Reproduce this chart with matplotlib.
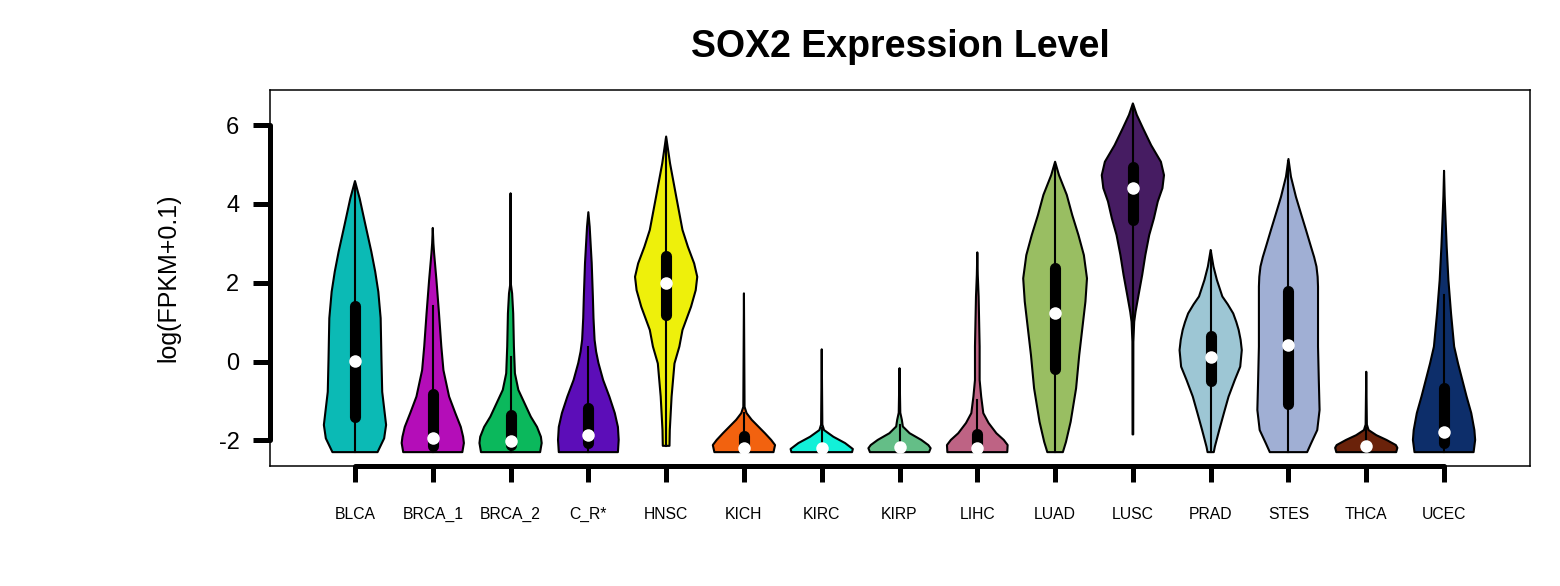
import numpy as np
import matplotlib
matplotlib.use("Agg")
import matplotlib.pyplot as plt

plt.rcParams['font.family'] = ['Liberation Sans', 'DejaVu Sans']
plt.rcParams['axes.unicode_minus'] = False

groups = ['BLCA', 'BRCA_1', 'BRCA_2', 'C_R*', 'HNSC', 'KICH', 'KIRC', 'KIRP',
          'LIHC', 'LUAD', 'LUSC', 'PRAD', 'STES', 'THCA', 'UCEC']
colors = ['#0BBAB5', '#B40DB8', '#0BB85C', '#5C0DB8', '#EEF00B', '#F2620F',
          '#12F0D8', '#64BE87', '#BE6384', '#99BE62', '#461C62', '#9DC6D4',
          '#A0AFD4', '#6A220A', '#0D2E6A']

# box / whisker summary
q1 = [-1.54, -2.26, -2.25, -2.20, 1.05, -2.25, -2.28, -2.28, -2.27, -0.32, 3.46, -0.61, -1.21, -2.28, -2.20]
q3 = [1.53, -0.70, -1.23, -1.06, 2.81, -1.76, -2.05, -2.05, -1.72, 2.49, 5.05, 0.78, 1.92, -2.05, -0.55]
medians = [0.01, -1.95, -2.02, -1.87, 1.99, -2.20, -2.19, -2.18, -2.19, 1.24, 4.40, 0.11, 0.42, -2.14, -1.78]
whisk_lo = [-2.30, -2.30, -2.30, -2.30, -2.14, -2.30, -2.30, -2.30, -2.30, -2.30, -1.85, -2.30, -2.30, -2.30, -2.30]
whisk_hi = [4.50, 1.42, 0.12, 0.38, 5.65, -1.30, -1.70, -1.60, -0.98, 5.00, 6.50, 2.80, 5.10, -1.70, 1.69]

# violin outlines: value levels and half widths
blca_y = [-2.30, -1.95, -1.61, -1.19, -0.77, 0.08, 1.10, 1.77, 2.28, 2.79, 3.46, 4.14, 4.58]
blca_w = [0.29, 0.375, 0.40, 0.375, 0.35, 0.34, 0.33, 0.30, 0.26, 0.21, 0.135, 0.06, 0.0]
brca1_y = [-2.30, -2.07, -1.91, -1.66, -1.31, -0.89, -0.22, 0.38, 1.22, 2.07, 2.75, 3.00, 3.39]
brca1_w = [0.38, 0.40, 0.39, 0.36, 0.29, 0.21, 0.137, 0.11, 0.08, 0.047, 0.017, 0.008, 0.0]
brca2_y = [-2.30, -2.07, -1.91, -1.66, -1.40, -1.06, -0.72, -0.30, 0.38, 1.22, 1.73, 1.95, 4.27]
brca2_w = [0.38, 0.40, 0.39, 0.34, 0.26, 0.18, 0.10, 0.056, 0.043, 0.034, 0.02, 0.005, 0.0]
cr_y = [-2.30, -1.99, -1.66, -1.31, -0.89, -0.47, -0.04, 0.25, 0.55, 1.10, 1.65, 2.50, 3.42, 3.79]
cr_w = [0.38, 0.39, 0.38, 0.34, 0.27, 0.19, 0.13, 0.10, 0.08, 0.066, 0.058, 0.043, 0.017, 0.0]
hnsc_y = [-2.14, -1.74, -0.89, -0.05, 0.38, 0.80, 1.39, 1.81, 2.15, 2.49, 2.91, 3.34, 4.18, 5.03, 5.71]
hnsc_w = [0.043, 0.047, 0.07, 0.107, 0.17, 0.21, 0.32, 0.38, 0.40, 0.36, 0.28, 0.21, 0.13, 0.05, 0.0]
kich_y = [-2.30, -2.12, -1.99, -1.82, -1.66, -1.48, -1.31, -1.15, 1.73]
kich_w = [0.38, 0.40, 0.35, 0.27, 0.19, 0.10, 0.034, 0.008, 0.0]
kirc_y = [-2.30, -2.22, -2.16, -2.07, -1.91, -1.74, -1.60, 0.31]
kirc_w = [0.39, 0.40, 0.36, 0.30, 0.15, 0.03, 0.008, 0.0]
kirp_y = [-2.30, -2.20, -2.12, -1.99, -1.82, -1.65, -1.48, -1.30, -0.17]
kirp_w = [0.38, 0.40, 0.37, 0.28, 0.13, 0.043, 0.03, 0.01, 0.0]
lihc_y = [-2.30, -2.12, -1.99, -1.82, -1.56, -1.31, -0.89, -0.47, 0.38, 1.65, 2.20, 2.77]
lihc_w = [0.385, 0.39, 0.34, 0.245, 0.145, 0.077, 0.05, 0.03, 0.03, 0.017, 0.006, 0.0]
luad_y = [-2.30, -2.04, -1.53, -0.68, 0.16, 0.84, 1.52, 2.11, 2.70, 3.21, 3.72, 4.23, 4.73, 5.07]
luad_w = [0.10, 0.14, 0.20, 0.27, 0.31, 0.35, 0.39, 0.41, 0.37, 0.30, 0.22, 0.15, 0.05, 0.0]
lusc_y = [-1.85, 0.50, 1.01, 1.26, 1.69, 2.20, 2.70, 3.21, 3.63, 4.06, 4.40, 4.73, 5.07, 5.49, 5.92, 6.26, 6.55]
lusc_w = [0.004, 0.006, 0.017, 0.034, 0.073, 0.12, 0.16, 0.21, 0.27, 0.32, 0.38, 0.40, 0.36, 0.235, 0.13, 0.05, 0.0]
prad_y = [-2.30, -2.16, -1.74, -1.31, -0.89, -0.47, -0.13, 0.29, 0.55, 0.80, 1.00, 1.22, 1.45, 1.65, 2.07, 2.41, 2.83]
prad_w = [0.04, 0.054, 0.11, 0.17, 0.23, 0.31, 0.38, 0.40, 0.385, 0.36, 0.33, 0.29, 0.22, 0.15, 0.08, 0.036, 0.0]
stes_y = [-2.30, -2.08, -1.74, -1.23, -0.47, 0.38, 1.22, 1.90, 2.15, 2.41, 2.65, 2.91, 3.34, 3.76, 4.18, 4.69, 5.14]
stes_w = [0.24, 0.29, 0.37, 0.40, 0.39, 0.38, 0.38, 0.38, 0.375, 0.36, 0.33, 0.29, 0.225, 0.16, 0.096, 0.032, 0.0]
thca_y = [-2.30, -2.19, -2.12, -1.99, -1.87, -1.74, -1.60, -0.26]
thca_w = [0.385, 0.40, 0.38, 0.26, 0.13, 0.03, 0.008, 0.0]
ucec_y = [-2.30, -1.99, -1.74, -1.31, -0.89, -0.47, -0.05, 0.38, 1.22, 2.07, 2.91, 3.59, 4.20, 4.84]
ucec_w = [0.38, 0.40, 0.39, 0.35, 0.29, 0.235, 0.18, 0.13, 0.09, 0.056, 0.034, 0.02, 0.008, 0.0]

shapes = [(blca_y, blca_w), (brca1_y, brca1_w), (brca2_y, brca2_w), (cr_y, cr_w),
          (hnsc_y, hnsc_w), (kich_y, kich_w), (kirc_y, kirc_w), (kirp_y, kirp_w),
          (lihc_y, lihc_w), (luad_y, luad_w), (lusc_y, lusc_w), (prad_y, prad_w),
          (stes_y, stes_w), (thca_y, thca_w), (ucec_y, ucec_w)]

fig = plt.figure(figsize=(15.6, 5.86), dpi=100)
ax = fig.add_axes([270 / 1560, 1 - 466 / 586, 1260 / 1560, 376 / 586])

cap = 0.12  # round cap of the box line, in data units
for i, (yy, ww) in enumerate(shapes):
    c = i + 1
    yy = np.array(yy)
    ww = np.array(ww)
    ax.fill(np.concatenate([c - ww, (c + ww)[::-1]]),
            np.concatenate([yy, yy[::-1]]),
            facecolor=colors[i], edgecolor='black', lw=1.5, joinstyle='round', zorder=2)
    # whisker, box and median
    ax.plot([c, c], [whisk_lo[i], whisk_hi[i]], color='black', lw=1.5, zorder=3)
    lo, hi = q1[i] + cap, q3[i] - cap
    if hi < lo:
        lo = hi = (q1[i] + q3[i]) / 2
    ax.plot([c, c], [lo, hi], color='black', lw=8, solid_capstyle='round', zorder=4)
    ax.plot(c, medians[i], 'o', color='white', ms=9, mec='none', zorder=5)

ax.set_xlim(-0.0925, 16.105)
ax.set_ylim(-2.652, 6.891)

for sp in ax.spines.values():
    sp.set_linewidth(1.1)

# thick R-style axis lines between first and last tick
ax.plot([0, 0], [-2, 6], transform=ax.get_yaxis_transform(), color='black',
        lw=3.6, solid_capstyle='round', clip_on=False, zorder=6)
ax.plot([1, 15], [0, 0], transform=ax.get_xaxis_transform(), color='black',
        lw=3.6, solid_capstyle='round', clip_on=False, zorder=6)

ax.set_yticks([-2, 0, 2, 4, 6])
ax.set_yticklabels(['-2', '0', '2', '4', '6'], fontsize=17)
ax.tick_params(axis='y', length=12, width=3.6, pad=10)
ax.set_xticks(range(1, len(groups) + 1))
ax.set_xticklabels(groups, fontsize=11.3)
ax.tick_params(axis='x', length=11.5, width=3.6, pad=18)

fig.text(900 / 1560, 1 - 47 / 586, 'SOX2 Expression Level', fontsize=27,
         fontweight='bold', ha='center', va='center')
fig.text(168 / 1560, 1 - 278 / 586, 'log(FPKM+0.1)', fontsize=18,
         rotation=90, ha='center', va='center')

fig.savefig('out.png', dpi=100)
